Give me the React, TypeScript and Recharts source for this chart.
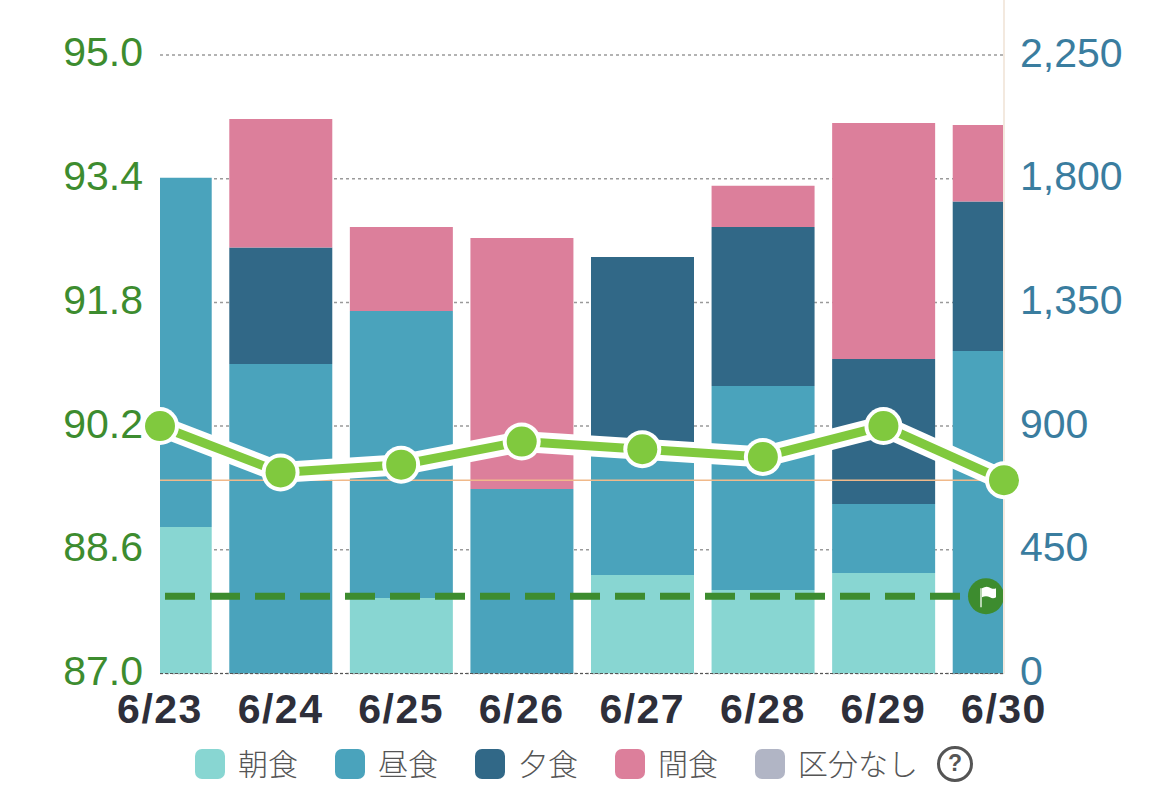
import { Bar, CartesianGrid, ComposedChart, Line, ReferenceLine, XAxis, YAxis } from "recharts";

const days = ["6/23", "6/24", "6/25", "6/26", "6/27", "6/28", "6/29", "6/30"];
const breakfast = [533, 0, 275, 0, 358, 304, 366, 0];
const lunch = [1270, 1126, 1044, 671, 448, 742, 251, 1173];
const dinner = [0, 424, 0, 0, 709, 578, 527, 544];
const snack = [0, 467, 305, 913, 0, 150, 859, 278];
const unclassified = [0, 0, 0, 0, 0, 0, 0, 0];
const weight = [90.2, 89.6, 89.7, 90.0, 89.9, 89.8, 90.2, 89.5];
const weightTicks = [87, 88.6, 90.2, 91.8, 93.4, 95];
const kcalTicks = [0, 450, 900, 1350, 1800, 2250];
const goalWeight = 88;
const avgWeight = 89.5;

const seriesNames = ["朝食", "昼食", "夕食", "間食", "区分なし"];
const seriesColors = ["#88d6d2", "#4aa3bc", "#316887", "#dc7f9b", "#b1b5c5"];
const legendX = [195, 335, 475, 615, 755];

const data = days.map((day, i) => ({
    day,
    breakfast: breakfast[i],
    lunch: lunch[i],
    dinner: dinner[i],
    snack: snack[i],
    unclassified: unclassified[i],
    weight: weight[i],
}));

const tickFont = "'Liberation Sans', Arial, sans-serif";
const cjkFont = "'Noto Sans CJK JP', sans-serif";

function ChartLegend() {
    return (
        <div style={{ position: "absolute", left: 0, top: 749, width: 1170, height: 40, fontFamily: cjkFont }}>
            {seriesNames.map((name, i) => (
                <div key={name} style={{ position: "absolute", left: legendX[i], top: 0, height: 30, display: "flex", alignItems: "center", whiteSpace: "nowrap" }}>
                    <span style={{ width: 30, height: 30, borderRadius: 7, background: seriesColors[i], display: "inline-block" }} />
                    <span style={{ marginLeft: 13, fontSize: 30, fontWeight: 300, color: "#555", lineHeight: "30px", position: "relative", top: -2 }}>{name}</span>
                </div>
            ))}
            <div style={{ position: "absolute", left: 937, top: -3, width: 30, height: 30, border: "3px solid #555", borderRadius: "50%", textAlign: "center", lineHeight: "29px", fontSize: 23, fontWeight: 700, color: "#555", fontFamily: tickFont }}>?</div>
        </div>
    );
}

function GoalFlag({ viewBox }: any) {
    const cx = viewBox.x + viewBox.width - 18;
    const cy = viewBox.y;
    return (
        <g>
            <circle cx={cx} cy={cy} r={18} fill="#3d8c2f" />
            <path d={`M${cx - 4} ${cy - 8} Q${cx + 1} ${cy - 11} ${cx + 5} ${cy - 8} Q${cx + 8} ${cy - 7} ${cx + 10} ${cy - 8} L${cx + 10} ${cy + 1} Q${cx + 7} ${cy + 3} ${cx + 4} ${cy + 1} Q${cx} ${cy - 1} ${cx - 4} ${cy + 1} Z`} fill="#fff" />
            <line x1={cx - 5} y1={cy - 8} x2={cx - 5} y2={cy + 11} stroke="#dfeedd" strokeWidth={1.5} />
        </g>
    );
}

export default function App() {
    return (
        <div style={{ position: "absolute", left: 0, top: 0, width: 1170, height: 809, background: "#fff" }}>
            <ComposedChart width={1170} height={809} data={data} barGap={0} margin={{ top: 0, right: 0, bottom: 0, left: 0 }}>
                <CartesianGrid vertical={false} stroke="#9a9a9a" strokeWidth={1.5} strokeDasharray="3 3" yAxisId="kcal" syncWithTicks />
                <XAxis
                    dataKey="day"
                    scale="point"
                    padding={{ left: 0, right: 0 }}
                    allowDataOverflow
                    interval={0}
                    height={135.5}
                    tickLine={false}
                    tickMargin={14}
                    stroke="#555"
                    strokeDasharray="3 2"
                    tick={{ fill: "#2e2f3a", fontSize: 41, fontWeight: 700, fontFamily: tickFont, letterSpacing: 1.5, strokeDasharray: "none" }}
                />
                <YAxis
                    yAxisId="weight"
                    orientation="left"
                    width={160}
                    domain={[87, 95.71]}
                    ticks={weightTicks}
                    interval={0}
                    tickFormatter={(v: number) => v.toFixed(1)}
                    axisLine={false}
                    tickLine={false}
                    tickMargin={11}
                    tick={{ fill: "#3d8c2f", fontSize: 41, fontFamily: tickFont, dy: -3 }}
                />
                <YAxis
                    yAxisId="kcal"
                    orientation="right"
                    width={166}
                    domain={[0, 2450]}
                    ticks={kcalTicks}
                    interval={0}
                    tickFormatter={(v: number) => v.toLocaleString("en-US")}
                    axisLine={{ stroke: "#f3e9df", strokeWidth: 2 }}
                    tickLine={false}
                    tickMargin={10}
                    tick={{ fill: "#3a7d9f", fontSize: 41, fontFamily: tickFont, dy: -3 }}
                />
                <Bar yAxisId="kcal" dataKey="breakfast" name={seriesNames[0]} stackId="meal" fill={seriesColors[0]} barSize={103} isAnimationActive={false} />
                <Bar yAxisId="kcal" dataKey="lunch" name={seriesNames[1]} stackId="meal" fill={seriesColors[1]} barSize={103} isAnimationActive={false} />
                <Bar yAxisId="kcal" dataKey="dinner" name={seriesNames[2]} stackId="meal" fill={seriesColors[2]} barSize={103} isAnimationActive={false} />
                <Bar yAxisId="kcal" dataKey="snack" name={seriesNames[3]} stackId="meal" fill={seriesColors[3]} barSize={103} isAnimationActive={false} />
                <Bar yAxisId="kcal" dataKey="unclassified" name={seriesNames[4]} stackId="meal" fill={seriesColors[4]} barSize={103} isAnimationActive={false} />
                <ReferenceLine yAxisId="weight" y={avgWeight} stroke="#f0b98a" strokeWidth={1.5} />
                <ReferenceLine
                    yAxisId="weight"
                    y={goalWeight}
                    stroke="#3d8c2f"
                    strokeWidth={7}
                    strokeDasharray="30 15"
                    strokeDashoffset={40}
                    label={GoalFlag}
                />
                <Line yAxisId="weight" dataKey="weight" stroke="#fff" strokeWidth={21} dot={{ r: 19, fill: "#fff", stroke: "none", clipDot: false }} activeDot={false} legendType="none" isAnimationActive={false} />
                <Line yAxisId="weight" dataKey="weight" stroke="#80c93e" strokeWidth={9} dot={{ r: 15, fill: "#80c93e", stroke: "none", clipDot: false }} activeDot={false} legendType="none" isAnimationActive={false} />
            </ComposedChart>
            <ChartLegend />
        </div>
    );
}
